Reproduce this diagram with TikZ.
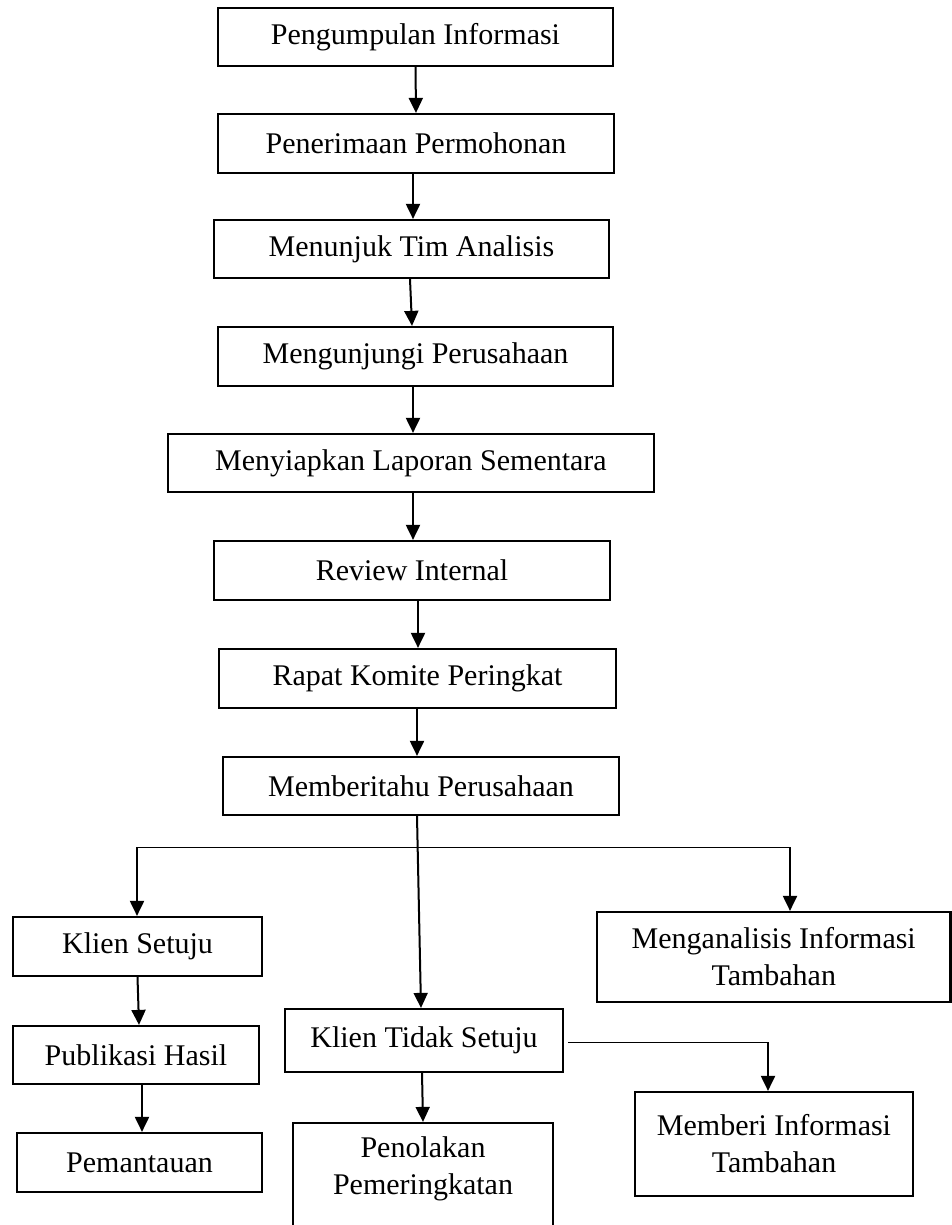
\documentclass[tikz,border=0pt]{standalone}
\usepackage{fontspec}
\setmainfont{Liberation Serif}
\usetikzlibrary{arrows.meta}
\begin{document}
\begin{tikzpicture}[x=1pt,y=-1pt,
  box/.style={draw, line width=2.2pt, inner sep=0pt, align=center,
    font=\fontsize{30}{37}\selectfont},
  arr/.style={line width=2pt, -{Triangle[width=14pt,length=15pt]}},
  thinline/.style={line width=1pt}]
\useasboundingbox (0,0) rectangle (952,1225);
\node[box, minimum width=395pt, minimum height=58pt] (b1) at (415.5,37) {Pengumpulan Informasi};
\node[box, minimum width=396pt, minimum height=59pt] (b2) at (416,143.5) {Penerimaan Permohonan};
\node[box, minimum width=395pt, minimum height=58pt] (b3) at (411.5,249) {Menunjuk Tim Analisis};
\node[box, minimum width=395pt, minimum height=59pt] (b4) at (415.5,356.5) {Mengunjungi Perusahaan};
\node[box, minimum width=486pt, minimum height=58pt] (b5) at (411,463) {Menyiapkan Laporan Sementara};
\node[box, minimum width=396pt, minimum height=59pt] (b6) at (412,570.5) {Review Internal};
\node[box, minimum width=397pt, minimum height=59pt] (b7) at (417.5,678.5) {Rapat Komite Peringkat};
\node[box, minimum width=396pt, minimum height=58pt] (b8) at (421,786) {Memberitahu Perusahaan};
\node[box, minimum width=249pt, minimum height=59pt] (ks) at (137.5,946.5) {Klien Setuju};
\node[box, minimum width=246pt, minimum height=58pt] (ph) at (136,1055) {Publikasi Hasil};
\node[box, minimum width=245pt, minimum height=59pt] (pem) at (139.5,1162.5) {Pemantauan};
\node[box, minimum width=278pt, minimum height=63pt] (kts) at (424,1040.5) {Klien Tidak Setuju};
\node[box, minimum width=260pt, minimum height=117pt] (pp) at (423,1181.5) {};
\node[align=center, inner sep=0pt, font=\fontsize{30}{37}\selectfont] (ppt) at (423,1169) {Penolakan\\Pemeringkatan};
\node[box, minimum width=353.5pt, minimum height=90pt] (mit) at (773.75,957) {Menganalisis Informasi\\Tambahan};
\node[box, minimum width=278pt, minimum height=104pt] (mbi) at (774,1144) {Memberi Informasi\\Tambahan};

\draw[arr] (b1.south) -- (b2.north);
\draw[arr] ([xshift=-3pt]b2.south) -- ([xshift=1.5pt]b3.north);
\draw[arr] ([xshift=-1.5pt]b3.south) -- ([xshift=-3.5pt]b4.north);
\draw[arr] ([xshift=-2.5pt]b4.south) -- ([xshift=2pt]b5.north);
\draw[arr] ([xshift=2pt]b5.south) -- ([xshift=1pt]b6.north);
\draw[arr] ([xshift=6pt]b6.south) -- ([xshift=0.5pt]b7.north);
\draw[arr] ([xshift=-0.5pt]b7.south) -- ([xshift=-4pt]b8.north);
\draw[arr] ([xshift=-4pt]b8.south) -- ([xshift=-3pt]kts.north);
\draw[arr] (ks.south) -- ([xshift=3pt]ph.north);
\draw[arr] ([xshift=6pt]ph.south) -- ([xshift=2.5pt]pem.north);
\draw[arr] ([xshift=-2pt]kts.south) -- (pp.north);

\coordinate (bl) at (137,847);
\coordinate (br) at (790,847);
\draw[thinline] (bl) -- (br);
\draw[arr] (bl) -- (bl |- ks.north);
\draw[arr] (br) -- (br |- mit.north);

\coordinate (kt) at (768,1042);
\draw[thinline] ([xshift=4pt,yshift=-1.5pt]kts.east) -- (kt);
\draw[arr] (kt) -- (kt |- mbi.north);
\end{tikzpicture}
\end{document}
